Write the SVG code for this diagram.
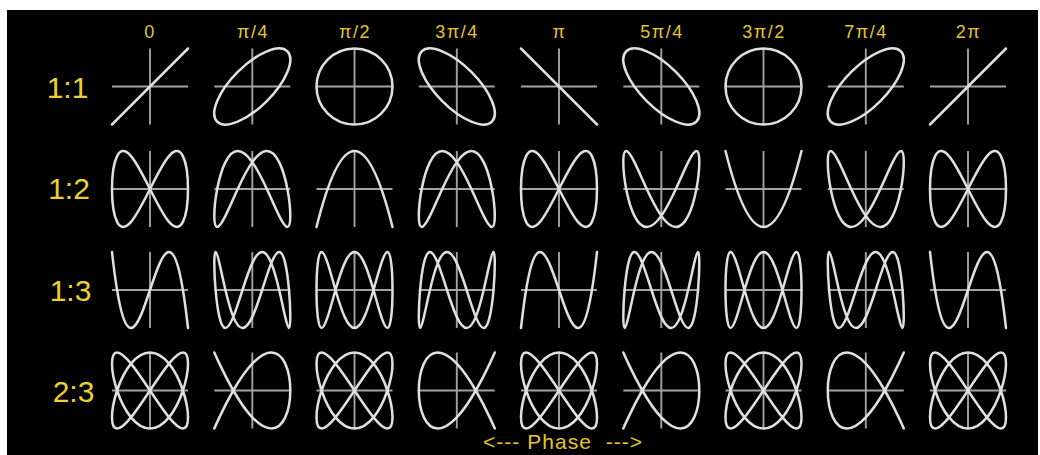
<svg xmlns="http://www.w3.org/2000/svg" width="1040" height="455" viewBox="0 0 1040 455">
<style>
.ax{stroke:#a2a2a2;stroke-width:5;fill:none}
.cv{stroke:#e0e0e0;stroke-width:6.6;fill:none;stroke-linejoin:round;stroke-linecap:round}
.hd{font-family:"Liberation Sans",Arial,sans-serif;font-size:18px;fill:#e2c72b;text-anchor:middle;letter-spacing:1.5px}
.rl{font-family:"Liberation Sans",Arial,sans-serif;font-size:30px;fill:#eed12c;text-anchor:middle}
.ph{font-family:"Liberation Sans",Arial,sans-serif;font-size:21px;fill:#e2c72b;text-anchor:middle}
</style>
<defs>
<g id="ax" class="ax"><line x1="-100" y1="0" x2="100" y2="0"/><line x1="0" y1="-100" x2="0" y2="100"/></g>
<path id="l1" class="cv" d="M-100,-100 L100,100"/>
<ellipse id="e1" class="cv" cx="0" cy="0" rx="130.7" ry="54.1" transform="rotate(45)"/>
<circle id="o1" class="cv" cx="0" cy="0" r="100"/>
<path id="c12a" class="cv" d="M0,0 C17.5,34.9 34.9,69.2 50,86.6 C65.1,104.1 77.9,104.1 86.6,86.6 C95.3,69.2 100,34.9 100,0 C100,-34.9 95.3,-69.2 86.6,-86.6 C77.9,-104.1 65.1,-104.1 50,-86.6 C34.9,-69.2 17.5,-34.9 0,0 C-17.5,34.9 -34.9,69.2 -50,86.6 C-65.1,104.1 -77.9,104.1 -86.6,86.6 C-95.3,69.2 -100,34.9 -100,0 C-100,-34.9 -95.3,-69.2 -86.6,-86.6 C-77.9,-104.1 -65.1,-104.1 -50,-86.6 C-34.9,-69.2 -17.5,-34.9 0,0Z"/>
<path id="c12b" class="cv" d="M0,70.7 C13.1,89.2 26.2,100 38.3,100 C50.4,100 61.5,89.2 70.7,70.7 C80,52.2 87.4,26.2 92.4,0 C97.4,-26.2 100,-52.2 100,-70.7 C100,-89.2 97.4,-100 92.4,-100 C87.4,-100 80,-89.2 70.7,-70.7 C61.5,-52.2 50.4,-26.2 38.3,0 C26.2,26.2 13.1,52.2 0,70.7 C-13.1,89.2 -26.2,100 -38.3,100 C-50.4,100 -61.5,89.2 -70.7,70.7 C-80,52.2 -87.4,26.2 -92.4,0 C-97.4,-26.2 -100,-52.2 -100,-70.7 C-100,-89.2 -97.4,-100 -92.4,-100 C-87.4,-100 -80,-89.2 -70.7,-70.7 C-61.5,-52.2 -50.4,-26.2 -38.3,0 C-26.2,26.2 -13.1,52.2 0,70.7Z"/>
<path id="c12c" class="cv" d="M-100,-100 Q0,300 100,-100"/>
<path id="c13a" class="cv" d="M-100,100 C-33.3,-500 33.3,500 100,-100"/>
<path id="c13b" class="cv" d="M0,70.7 C8.7,89.2 17.5,100 25.9,100 C34.3,100 42.4,89.2 50,70.7 C57.6,52.2 64.5,26.2 70.7,0 C76.9,-26.2 82.2,-52.2 86.6,-70.7 C91,-89.2 94.3,-100 96.6,-100 C98.9,-100 100,-89.2 100,-70.7 C100,-52.2 98.9,-26.2 96.6,0 C94.3,26.2 91,52.2 86.6,70.7 C82.2,89.2 76.9,100 70.7,100 C64.5,100 57.6,89.2 50,70.7 C42.4,52.2 34.3,26.2 25.9,0 C17.5,-26.2 8.7,-52.2 0,-70.7 C-8.7,-89.2 -17.5,-100 -25.9,-100 C-34.3,-100 -42.4,-89.2 -50,-70.7 C-57.6,-52.2 -64.5,-26.2 -70.7,0 C-76.9,26.2 -82.2,52.2 -86.6,70.7 C-91,89.2 -94.3,100 -96.6,100 C-98.9,100 -100,89.2 -100,70.7 C-100,52.2 -98.9,26.2 -96.6,0 C-94.3,-26.2 -91,-52.2 -86.6,-70.7 C-82.2,-89.2 -76.9,-100 -70.7,-100 C-64.5,-100 -57.6,-89.2 -50,-70.7 C-42.4,-52.2 -34.3,-26.2 -25.9,0 C-17.5,26.2 -8.7,52.2 0,70.7Z"/>
<path id="c13c" class="cv" d="M-100,0 C-100,-26.2 -98.9,-52.2 -96.6,-70.7 C-94.3,-89.2 -91,-100 -86.6,-100 C-82.2,-100 -76.9,-89.2 -70.7,-70.7 C-64.5,-52.2 -57.6,-26.2 -50,0 C-42.4,26.2 -34.3,52.2 -25.9,70.7 C-17.5,89.2 -8.7,100 0,100 C8.7,100 17.5,89.2 25.9,70.7 C34.3,52.2 42.4,26.2 50,0 C57.6,-26.2 64.5,-52.2 70.7,-70.7 C76.9,-89.2 82.2,-100 86.6,-100 C91,-100 94.3,-89.2 96.6,-70.7 C98.9,-52.2 100,-26.2 100,0 C100,26.2 98.9,52.2 96.6,70.7 C94.3,89.2 91,100 86.6,100 C82.2,100 76.9,89.2 70.7,70.7 C64.5,52.2 57.6,26.2 50,0 C42.4,-26.2 34.3,-52.2 25.9,-70.7 C17.5,-89.2 8.7,-100 0,-100 C-8.7,-100 -17.5,-89.2 -25.9,-70.7 C-34.3,-52.2 -42.4,-26.2 -50,0 C-57.6,26.2 -64.5,52.2 -70.7,70.7 C-76.9,89.2 -82.2,100 -86.6,100 C-91,100 -94.3,89.2 -96.6,70.7 C-98.9,52.2 -100,26.2 -100,0Z"/>
<path id="c23a" class="cv" d="M0,0 C17.5,26.2 34.9,52.2 50,70.7 C65.1,89.2 77.9,100 86.6,100 C95.3,100 100,89.2 100,70.7 C100,52.2 95.3,26.2 86.6,0 C77.9,-26.2 65.1,-52.2 50,-70.7 C34.9,-89.2 17.5,-100 0,-100 C-17.5,-100 -34.9,-89.2 -50,-70.7 C-65.1,-52.2 -77.9,-26.2 -86.6,0 C-95.3,26.2 -100,52.2 -100,70.7 C-100,89.2 -95.3,100 -86.6,100 C-77.9,100 -65.1,89.2 -50,70.7 C-34.9,52.2 -17.5,26.2 0,0 C17.5,-26.2 34.9,-52.2 50,-70.7 C65.1,-89.2 77.9,-100 86.6,-100 C95.3,-100 100,-89.2 100,-70.7 C100,-52.2 95.3,-26.2 86.6,0 C77.9,26.2 65.1,52.2 50,70.7 C34.9,89.2 17.5,100 0,100 C-17.5,100 -34.9,89.2 -50,70.7 C-65.1,52.2 -77.9,26.2 -86.6,0 C-95.3,-26.2 -100,-52.2 -100,-70.7 C-100,-89.2 -95.3,-100 -86.6,-100 C-77.9,-100 -65.1,-89.2 -50,-70.7 C-34.9,-52.2 -17.5,-26.2 0,0Z"/>
<path id="c23b" class="cv" d="M-100,100 C-100,100 -95.3,89.2 -86.6,70.7 C-77.9,52.2 -65.1,26.2 -50,0 C-34.9,-26.2 -17.5,-52.2 0,-70.7 C17.5,-89.2 34.9,-100 50,-100 C65.1,-100 77.9,-89.2 86.6,-70.7 C95.3,-52.2 100,-26.2 100,0 C100,26.2 95.3,52.2 86.6,70.7 C77.9,89.2 65.1,100 50,100 C34.9,100 17.5,89.2 0,70.7 C-17.5,52.2 -34.9,26.2 -50,0 C-65.1,-26.2 -77.9,-52.2 -86.6,-70.7 C-95.3,-89.2 -100,-100 -100,-100"/>
</defs>
<rect x="0" y="0" width="1040" height="455" fill="#ffffff"/>
<rect x="7" y="10" width="1031" height="445" fill="#000000"/>
<g id="headers">
<text class="hd" x="150" y="38">0</text>
<text class="hd" x="253" y="38">π/4</text>
<text class="hd" x="355" y="38">π/2</text>
<text class="hd" x="457" y="38">3π/4</text>
<text class="hd" x="559.5" y="38">π</text>
<text class="hd" x="662" y="38">5π/4</text>
<text class="hd" x="764" y="38">3π/2</text>
<text class="hd" x="866" y="38">7π/4</text>
<text class="hd" x="968.5" y="38">2π</text>
</g>
<g id="row-labels">
<text class="rl" x="67.5" y="98">1:1</text>
<text class="rl" x="69" y="199">1:2</text>
<text class="rl" x="70.5" y="301">1:3</text>
<text class="rl" x="73.5" y="402">2:3</text>
</g>
<g id="row-1-1">
<g id="r1c1" transform="translate(150,86.5) scale(.38,-.38)"><use href="#ax"/><use href="#l1"/></g>
<g id="r1c2" transform="translate(252.3,86.5) scale(.38,-.38)"><use href="#ax"/><use href="#e1"/></g>
<g id="r1c3" transform="translate(354.5,86.5) scale(.38,-.38)"><use href="#ax"/><use href="#o1"/></g>
<g id="r1c4" transform="translate(456.8,86.5) scale(.38,-.38)"><use href="#ax"/><use href="#e1" transform="scale(-1,1)"/></g>
<g id="r1c5" transform="translate(559,86.5) scale(.38,-.38)"><use href="#ax"/><use href="#l1" transform="scale(-1,1)"/></g>
<g id="r1c6" transform="translate(661.3,86.5) scale(.38,-.38)"><use href="#ax"/><use href="#e1" transform="scale(-1,1)"/></g>
<g id="r1c7" transform="translate(763.5,86.5) scale(.38,-.38)"><use href="#ax"/><use href="#o1"/></g>
<g id="r1c8" transform="translate(865.8,86.5) scale(.38,-.38)"><use href="#ax"/><use href="#e1"/></g>
<g id="r1c9" transform="translate(968,86.5) scale(.38,-.38)"><use href="#ax"/><use href="#l1"/></g>
</g>
<g id="row-1-2">
<g id="r2c1" transform="translate(150,189) scale(.38,-.38)"><use href="#ax"/><use href="#c12a"/></g>
<g id="r2c2" transform="translate(252.3,189) scale(.38,-.38)"><use href="#ax"/><use href="#c12b"/></g>
<g id="r2c3" transform="translate(354.5,189) scale(.38,-.38)"><use href="#ax"/><use href="#c12c"/></g>
<g id="r2c4" transform="translate(456.8,189) scale(.38,-.38)"><use href="#ax"/><use href="#c12b"/></g>
<g id="r2c5" transform="translate(559,189) scale(.38,-.38)"><use href="#ax"/><use href="#c12a"/></g>
<g id="r2c6" transform="translate(661.3,189) scale(.38,-.38)"><use href="#ax"/><use href="#c12b" transform="scale(1,-1)"/></g>
<g id="r2c7" transform="translate(763.5,189) scale(.38,-.38)"><use href="#ax"/><use href="#c12c" transform="scale(1,-1)"/></g>
<g id="r2c8" transform="translate(865.8,189) scale(.38,-.38)"><use href="#ax"/><use href="#c12b" transform="scale(1,-1)"/></g>
<g id="r2c9" transform="translate(968,189) scale(.38,-.38)"><use href="#ax"/><use href="#c12a"/></g>
</g>
<g id="row-1-3">
<g id="r3c1" transform="translate(150,290) scale(.38,-.38)"><use href="#ax"/><use href="#c13a"/></g>
<g id="r3c2" transform="translate(252.3,290) scale(.38,-.38)"><use href="#ax"/><use href="#c13b"/></g>
<g id="r3c3" transform="translate(354.5,290) scale(.38,-.38)"><use href="#ax"/><use href="#c13c"/></g>
<g id="r3c4" transform="translate(456.8,290) scale(.38,-.38)"><use href="#ax"/><use href="#c13b" transform="scale(-1,1)"/></g>
<g id="r3c5" transform="translate(559,290) scale(.38,-.38)"><use href="#ax"/><use href="#c13a" transform="scale(1,-1)"/></g>
<g id="r3c6" transform="translate(661.3,290) scale(.38,-.38)"><use href="#ax"/><use href="#c13b" transform="scale(1,-1)"/></g>
<g id="r3c7" transform="translate(763.5,290) scale(.38,-.38)"><use href="#ax"/><use href="#c13c"/></g>
<g id="r3c8" transform="translate(865.8,290) scale(.38,-.38)"><use href="#ax"/><use href="#c13b"/></g>
<g id="r3c9" transform="translate(968,290) scale(.38,-.38)"><use href="#ax"/><use href="#c13a"/></g>
</g>
<g id="row-2-3">
<g id="r4c1" transform="translate(150,390.5) scale(.38,-.38)"><use href="#ax"/><use href="#c23a"/></g>
<g id="r4c2" transform="translate(252.3,390.5) scale(.38,-.38)"><use href="#ax"/><use href="#c23b"/></g>
<g id="r4c3" transform="translate(354.5,390.5) scale(.38,-.38)"><use href="#ax"/><use href="#c23a"/></g>
<g id="r4c4" transform="translate(456.8,390.5) scale(.38,-.38)"><use href="#ax"/><use href="#c23b" transform="scale(-1,1)"/></g>
<g id="r4c5" transform="translate(559,390.5) scale(.38,-.38)"><use href="#ax"/><use href="#c23a"/></g>
<g id="r4c6" transform="translate(661.3,390.5) scale(.38,-.38)"><use href="#ax"/><use href="#c23b"/></g>
<g id="r4c7" transform="translate(763.5,390.5) scale(.38,-.38)"><use href="#ax"/><use href="#c23a"/></g>
<g id="r4c8" transform="translate(865.8,390.5) scale(.38,-.38)"><use href="#ax"/><use href="#c23b" transform="scale(-1,1)"/></g>
<g id="r4c9" transform="translate(968,390.5) scale(.38,-.38)"><use href="#ax"/><use href="#c23a"/></g>
</g>
<g id="connectors"/>
<text class="ph" x="562.5" y="449" textLength="159" lengthAdjust="spacing" xml:space="preserve">&lt;--- Phase  ---&gt;</text>
</svg>
